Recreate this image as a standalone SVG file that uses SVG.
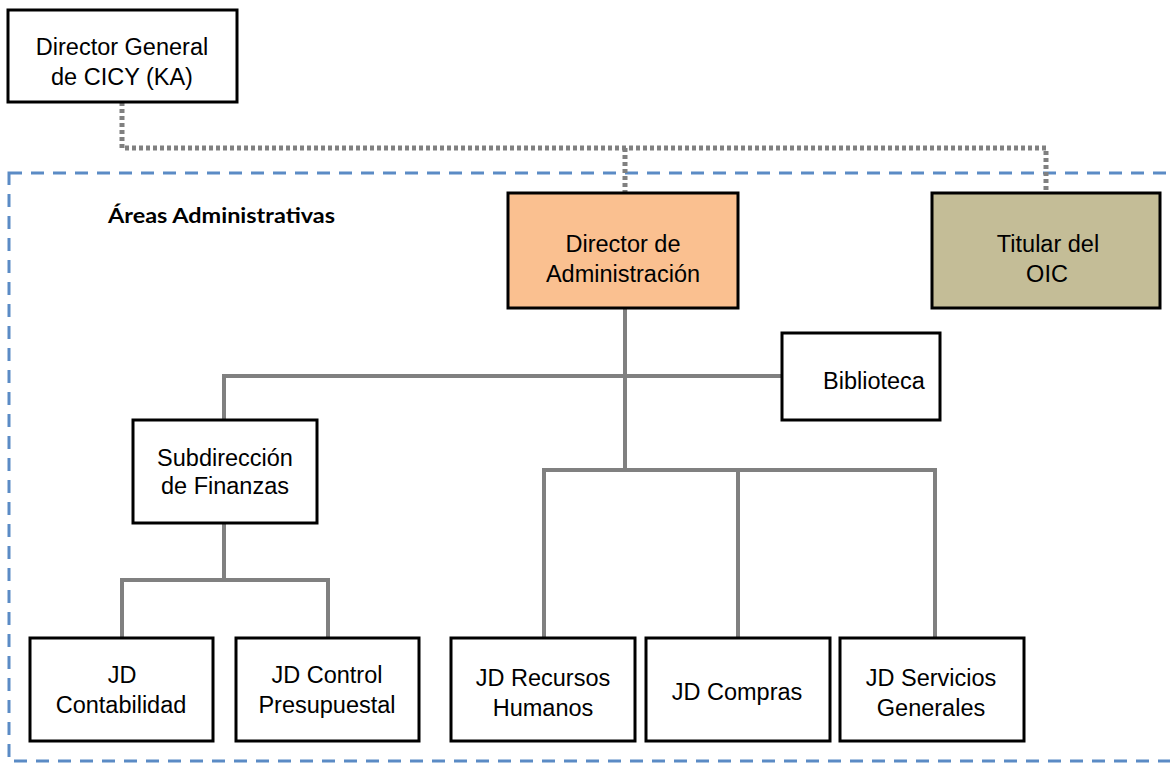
<svg xmlns="http://www.w3.org/2000/svg" width="1170" height="764" viewBox="0 0 1170 764">
<style>
.box{fill:#fff;stroke:#000;stroke-width:3}
.t{font-family:"Liberation Sans",Arial,sans-serif;font-size:23.5px;fill:#000;text-anchor:middle}
.c{fill:none;stroke:#808080;stroke-width:4}
.d{fill:none;stroke:#808080;stroke-width:5;stroke-dasharray:4 3}
</style>
<rect width="1170" height="764" fill="#fff"/>
<rect id="area" x="9" y="173" width="1200" height="588" fill="none" stroke="#5B8BC5" stroke-width="3" stroke-dasharray="13 9"/>
<text x="108" y="223" style="font-family:Lato,'Open Sans',sans-serif;font-weight:bold;font-size:20px;fill:#000" textLength="227" lengthAdjust="spacingAndGlyphs">Áreas Administrativas</text>
<g id="connectors">
<path class="d" d="M122 102 V148 H1046 V193 M625 148 V193"/>
<path class="c" d="M625 308 V470 M224 420 V376 H782 M544 638 V470 H935 V638 M738 470 V638 M224 523 V580 M122 638 V580 H328 V638"/>
</g>
<g id="n-director-general">
<rect class="box" x="8" y="10" width="229" height="92"/>
<text class="t" x="122" y="55">Director General</text>
<text class="t" x="122" y="85">de CICY (KA)</text>
</g>
<g id="n-director-admin">
<rect class="box" x="508" y="193" width="230" height="115" style="fill:#FAC090"/>
<text class="t" x="623" y="252">Director de</text>
<text class="t" x="623" y="282">Administración</text>
</g>
<g id="n-titular-oic">
<rect class="box" x="932" y="193" width="228" height="115" style="fill:#C4BD97"/>
<text class="t" x="1048" y="252">Titular del</text>
<text class="t" x="1047" y="282">OIC</text>
</g>
<g id="n-biblioteca">
<rect class="box" x="782" y="333" width="158" height="87"/>
<text class="t" x="874" y="389">Biblioteca</text>
</g>
<g id="n-subdireccion">
<rect class="box" x="133" y="420" width="184" height="103"/>
<text class="t" x="225" y="466">Subdirección</text>
<text class="t" x="225" y="494">de Finanzas</text>
</g>
<g id="n-contabilidad">
<rect class="box" x="30" y="638" width="183" height="103"/>
<text class="t" x="122" y="683">JD</text>
<text class="t" x="121" y="713">Contabilidad</text>
</g>
<g id="n-control">
<rect class="box" x="236" y="638" width="183" height="103"/>
<text class="t" x="327" y="683">JD Control</text>
<text class="t" x="327" y="713">Presupuestal</text>
</g>
<g id="n-rh">
<rect class="box" x="451" y="638" width="184" height="103"/>
<text class="t" x="543" y="686">JD Recursos</text>
<text class="t" x="543" y="716">Humanos</text>
</g>
<g id="n-compras">
<rect class="box" x="646" y="638" width="184" height="103"/>
<text class="t" x="737" y="700">JD Compras</text>
</g>
<g id="n-servicios">
<rect class="box" x="840" y="638" width="184" height="103"/>
<text class="t" x="931" y="686">JD Servicios</text>
<text class="t" x="931" y="716">Generales</text>
</g>
</svg>
